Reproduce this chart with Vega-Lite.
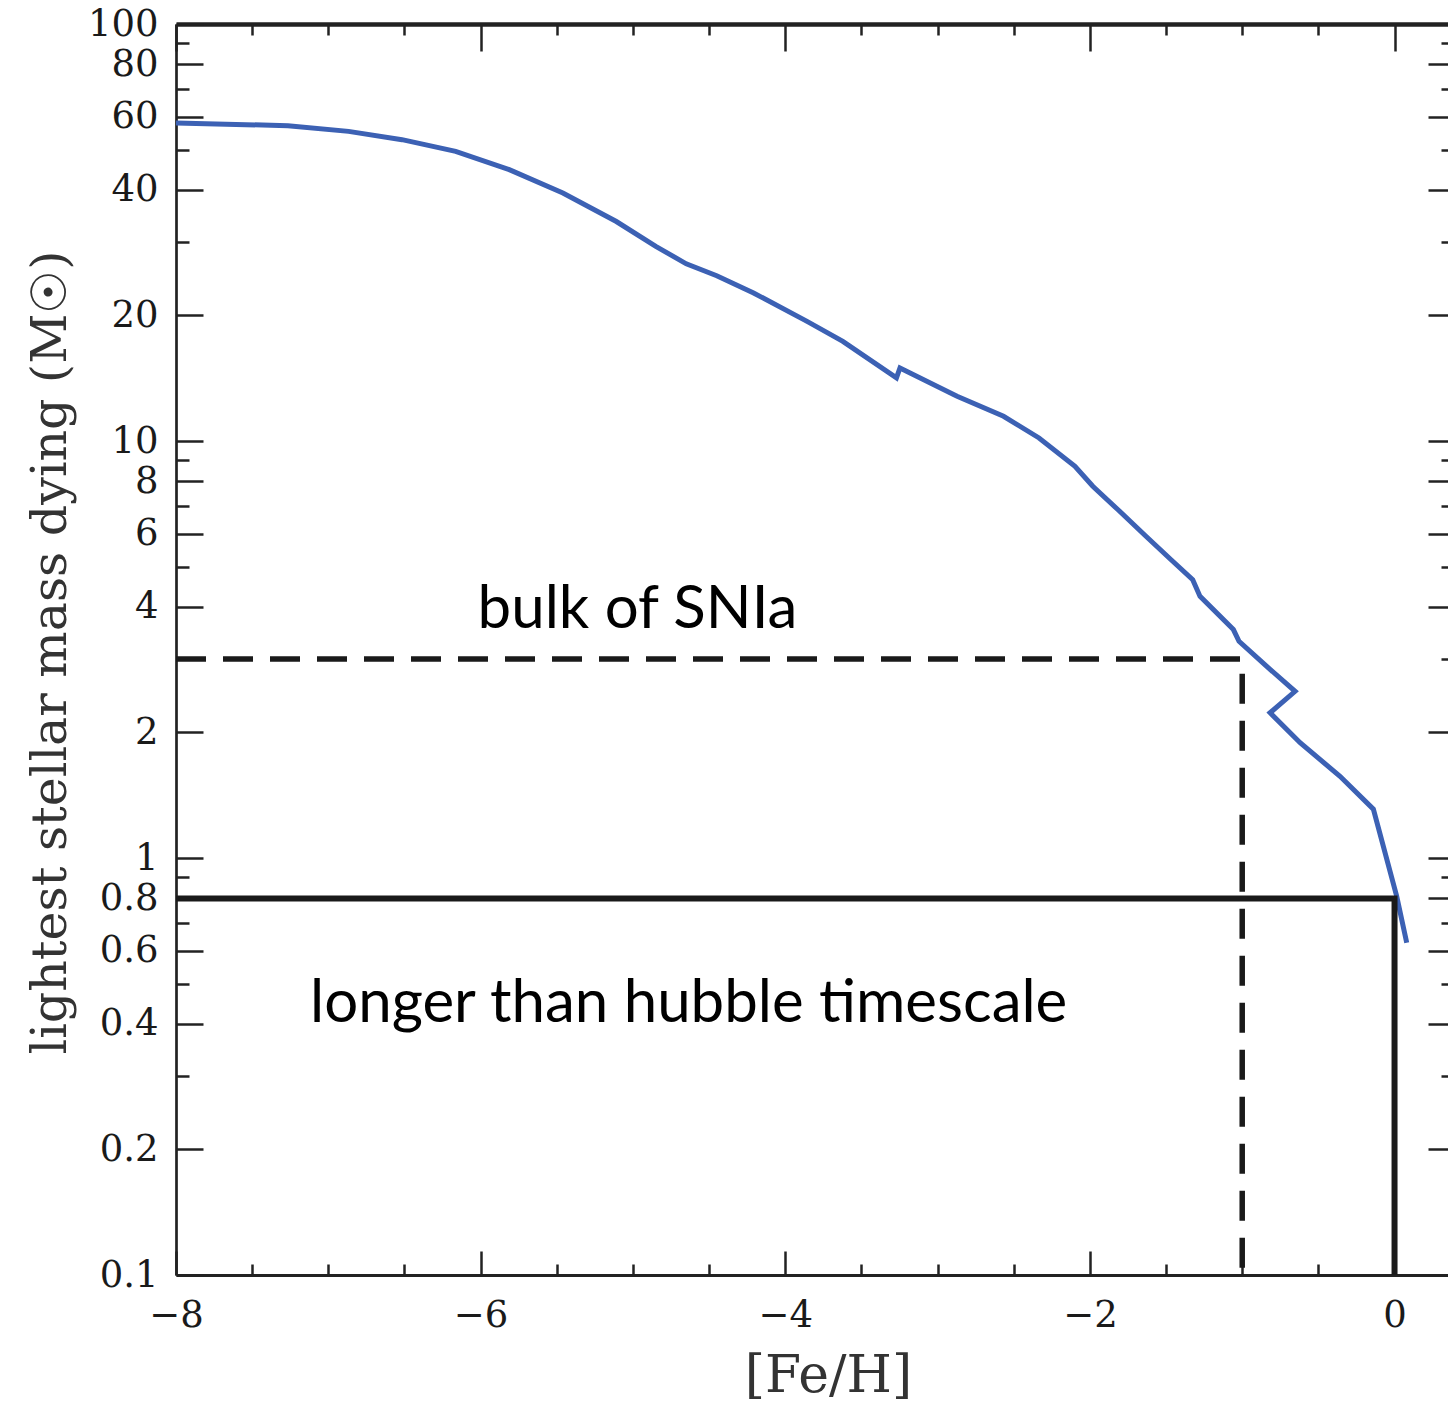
{
  "$schema": "https://vega.github.io/schema/vega-lite/v6.json",
  "width": 1272,
  "height": 1251,
  "autosize": {"type": "none"},
  "padding": {"left": 176, "top": 24, "right": 0, "bottom": 129},
  "background": "white",
  "config": {
    "view": {"stroke": null},
    "axis": {
      "grid": false,
      "domainColor": "#222",
      "tickColor": "#222",
      "tickWidth": 2.5,
      "labelColor": "#1a1a1a",
      "labelFont": "DejaVu Serif",
      "labelFontSize": 37,
      "labelOverlap": false,
      "labelFlush": false,
      "labelBound": false,
      "titleFont": "DejaVu Serif",
      "titleFontWeight": "normal",
      "titleColor": "#333"
    }
  },
  "datasets": {
    "curve": [
      {"feh": -8.0, "m": 57.88, "o": 1},
      {"feh": -7.265, "m": 57.04, "o": 2},
      {"feh": -6.867, "m": 55.27, "o": 3},
      {"feh": -6.516, "m": 52.8, "o": 4},
      {"feh": -6.164, "m": 49.5, "o": 5},
      {"feh": -5.812, "m": 44.75, "o": 6},
      {"feh": -5.46, "m": 39.33, "o": 7},
      {"feh": -5.109, "m": 33.6, "o": 8},
      {"feh": -4.85, "m": 29.3, "o": 9},
      {"feh": -4.65, "m": 26.6, "o": 10},
      {"feh": -4.45, "m": 24.9, "o": 11},
      {"feh": -4.208, "m": 22.65, "o": 12},
      {"feh": -3.857, "m": 19.36, "o": 13},
      {"feh": -3.622, "m": 17.34, "o": 14},
      {"feh": -3.27, "m": 14.17, "o": 15},
      {"feh": -3.247, "m": 14.97, "o": 16},
      {"feh": -2.872, "m": 12.8, "o": 17},
      {"feh": -2.567, "m": 11.46, "o": 18},
      {"feh": -2.334, "m": 10.17, "o": 19},
      {"feh": -2.098, "m": 8.7, "o": 20},
      {"feh": -1.981, "m": 7.79, "o": 21},
      {"feh": -1.817, "m": 6.85, "o": 22},
      {"feh": -1.632, "m": 5.91, "o": 23},
      {"feh": -1.467, "m": 5.19, "o": 24},
      {"feh": -1.325, "m": 4.65, "o": 25},
      {"feh": -1.277, "m": 4.24, "o": 26},
      {"feh": -1.058, "m": 3.53, "o": 27},
      {"feh": -1.021, "m": 3.31, "o": 28},
      {"feh": -0.839, "m": 2.88, "o": 29},
      {"feh": -0.653, "m": 2.51, "o": 30},
      {"feh": -0.817, "m": 2.23, "o": 31},
      {"feh": -0.62, "m": 1.89, "o": 32},
      {"feh": -0.358, "m": 1.57, "o": 33},
      {"feh": -0.139, "m": 1.31, "o": 34},
      {"feh": 0.014, "m": 0.81, "o": 35},
      {"feh": 0.08, "m": 0.626, "o": 36}
    ],
    "dashed": [
      {"feh": -8, "m": 3, "o": 1},
      {"feh": -1, "m": 3, "o": 2},
      {"feh": -1, "m": 0.1, "o": 3}
    ],
    "solid": [
      {"feh": -8, "m": 0.8, "o": 1},
      {"feh": 0, "m": 0.8, "o": 2},
      {"feh": 0, "m": 0.1, "o": 3}
    ],
    "notes": [
      {"feh": -6.02, "m": 3.57, "label": "bulk of SNIa"},
      {"feh": -7.12, "m": 0.405, "label": "longer than hubble timescale"}
    ]
  },
  "resolve": {"axis": {"x": "independent", "y": "independent"}},
  "layer": [
    {
      "data": {"name": "curve"},
      "mark": {"type": "line", "color": "#3c61b4", "strokeWidth": 5, "clip": true},
      "encoding": {
        "x": {"field": "feh", "type": "quantitative",
          "scale": {"domain": [-8, 0.351], "nice": false, "zero": false},
          "axis": {"orient": "bottom", "values": [-8, -6, -4, -2, 0], "format": "d",
            "tickSize": -24, "labelPadding": 46, "domainWidth": 3, "title": "[Fe/H]",
            "titleFontSize": 52, "titleX": 652, "titleY": 100, "titleBaseline": "middle", "titleAlign": "center"}},
        "y": {"field": "m", "type": "quantitative",
          "scale": {"type": "log", "domain": [0.1, 100], "nice": false},
          "axis": {"orient": "left", "values": [0.1, 0.2, 0.4, 0.6, 0.8, 1, 2, 4, 6, 8, 10, 20, 40, 60, 80, 100],
            "format": "~g", "tickSize": -27, "labelPadding": 45, "domainWidth": 2.7,
            "title": "lightest stellar mass dying (M☉)", "titleFontSize": 49,
            "titleX": -126, "titleY": 628, "titleAngle": -90, "titleBaseline": "middle", "titleAlign": "center"}},
        "order": {"field": "o", "type": "quantitative"}
      }
    },
    {
      "data": {"name": "dashed"},
      "mark": {"type": "line", "color": "#1a1a1a", "strokeWidth": 5.5, "strokeDash": [30, 17], "strokeCap": "butt"},
      "encoding": {
        "x": {"field": "feh", "type": "quantitative",
          "scale": {"domain": [-8, 0.351], "nice": false, "zero": false},
          "axis": {"orient": "bottom", "values": [-7.5, -7, -6.5, -5.5, -5, -4.5, -3.5, -3, -2.5, -1.5, -1, -0.5],
            "tickSize": -11, "labels": false, "domain": false, "title": null}},
        "y": {"field": "m", "type": "quantitative",
          "scale": {"type": "log", "domain": [0.1, 100], "nice": false},
          "axis": {"orient": "left", "values": [0.3, 0.5, 0.7, 0.9, 3, 5, 7, 9, 30, 50, 70, 90],
            "tickSize": -13, "labels": false, "domain": false, "title": null}},
        "order": {"field": "o", "type": "quantitative"}
      }
    },
    {
      "data": {"name": "solid"},
      "mark": {"type": "line", "color": "#1a1a1a", "strokeWidth": 6, "strokeCap": "butt"},
      "encoding": {
        "x": {"field": "feh", "type": "quantitative",
          "scale": {"domain": [-8, 0.351], "nice": false, "zero": false},
          "axis": {"orient": "top", "values": [-8, -6, -4, -2, 0],
            "tickSize": -27, "labels": false, "domainWidth": 4.5, "title": null}},
        "y": {"field": "m", "type": "quantitative",
          "scale": {"type": "log", "domain": [0.1, 100], "nice": false},
          "axis": {"orient": "right", "values": [0.1, 0.2, 0.4, 0.6, 0.8, 1, 2, 4, 6, 8, 10, 20, 40, 60, 80, 100],
            "tickSize": -20, "labels": false, "domain": false, "title": null}},
        "order": {"field": "o", "type": "quantitative"}
      }
    },
    {
      "data": {"name": "notes"},
      "mark": {"type": "text", "align": "left", "baseline": "alphabetic", "font": "Lato", "fontSize": 60, "color": "#000"},
      "encoding": {
        "x": {"field": "feh", "type": "quantitative",
          "scale": {"domain": [-8, 0.351], "nice": false, "zero": false},
          "axis": {"orient": "top", "values": [-7.5, -7, -6.5, -5.5, -5, -4.5, -3.5, -3, -2.5, -1.5, -1, -0.5],
            "tickSize": -11, "labels": false, "domain": false, "title": null}},
        "y": {"field": "m", "type": "quantitative",
          "scale": {"type": "log", "domain": [0.1, 100], "nice": false},
          "axis": {"orient": "right", "values": [0.3, 0.5, 0.7, 0.9, 3, 5, 7, 9, 30, 50, 70, 90],
            "tickSize": -7, "labels": false, "domain": false, "title": null}},
        "text": {"field": "label"}
      }
    }
  ]
}
